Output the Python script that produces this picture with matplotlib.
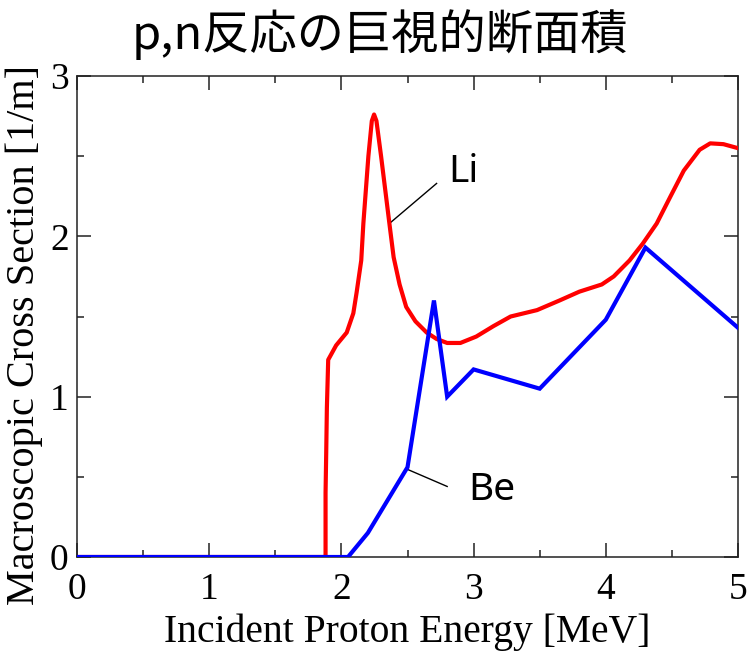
import matplotlib
matplotlib.use("Agg")
import matplotlib.pyplot as plt
from matplotlib.ticker import MultipleLocator

# Li (p,n) macroscopic cross section
li_energy = [0.0, 1.88, 1.88, 1.885, 1.89, 1.90, 1.96, 2.04, 2.09, 2.115, 2.15,
             2.166, 2.204, 2.23, 2.247, 2.265, 2.30, 2.363, 2.395, 2.44, 2.49, 2.56,
             2.645, 2.72, 2.80, 2.90, 3.02, 3.15, 3.28, 3.48, 3.65, 3.80, 3.97,
             4.06, 4.18, 4.28, 4.385, 4.49, 4.59, 4.71, 4.79, 4.89, 5.0]
li_sigma = [0.0, 0.0, 0.40, 0.65, 0.93, 1.23, 1.32, 1.40, 1.52, 1.65, 1.85,
            2.08, 2.50, 2.72, 2.76, 2.72, 2.50, 2.08, 1.87, 1.70, 1.56, 1.47,
            1.40, 1.36, 1.335, 1.335, 1.375, 1.44, 1.50, 1.54, 1.60, 1.655, 1.70,
            1.75, 1.85, 1.955, 2.08, 2.25, 2.41, 2.54, 2.58, 2.575, 2.55]

# Be (p,n)
be_energy = [0.0, 2.05, 2.2, 2.5, 2.7, 2.8, 3.0, 3.5, 4.0, 4.3, 5.0]
be_sigma = [0.0, 0.0, 0.15, 0.56, 1.60, 1.0, 1.17, 1.05, 1.48, 1.93, 1.43]

TITLE = "p,n反応の巨視的断面積"
XLABEL = "Incident Proton Energy [MeV]"
YLABEL = "Macroscopic Cross Section [1/m]"

# label text position and leader line ends (data coords)
li_text = (2.92, 2.40)
li_leader = ([2.37, 2.72], [2.085, 2.33])
be_text = (3.14, 0.42)
be_leader = ([2.49, 2.80], [0.55, 0.44])

fig = plt.figure(figsize=(7.48, 6.52), dpi=100)
ax = fig.add_axes([0.103, 0.1457, 0.8836, 0.7377])

ax.plot(li_energy, li_sigma, color="#ff0000", lw=3, solid_joinstyle="round", zorder=3)
ax.plot(be_energy, be_sigma, color="#0000ff", lw=3, solid_joinstyle="miter", zorder=4)

ax.plot(*li_leader, color="black", lw=1)
ax.plot(*be_leader, color="black", lw=1)
ax.text(*li_text, "Li", fontsize=28, family="Noto Sans", ha="center", va="center")
ax.text(*be_text, "Be", fontsize=28, family="Noto Sans", ha="center", va="center")

ax.set_xlim(0, 5)
ax.set_ylim(0, 3)
ax.xaxis.set_major_locator(MultipleLocator(1))
ax.xaxis.set_minor_locator(MultipleLocator(0.5))
ax.yaxis.set_major_locator(MultipleLocator(1))
ax.yaxis.set_minor_locator(MultipleLocator(0.5))
ax.tick_params(which="both", direction="in", top=True, right=True, width=1.1, color="#222222")
ax.tick_params(which="major", length=10)
ax.tick_params(which="minor", length=5)
ax.tick_params(axis="x", pad=11)
ax.tick_params(axis="y", pad=6)
for lab in ax.get_xticklabels() + ax.get_yticklabels():
    lab.set_family("Liberation Serif")
    lab.set_fontsize(27)
for sp in ax.spines.values():
    sp.set_linewidth(1.1)
    sp.set_color("#222222")

fig.text(407 / 748, 1 - 632 / 652, XLABEL, family="Liberation Serif", fontsize=28.5,
         ha="center", va="center")
fig.text(24 / 748, 1 - 335 / 652, YLABEL, family="Liberation Serif", fontsize=29,
         rotation=90, ha="center", va="center")
fig.text(380 / 748, 1 - 35 / 652, TITLE, family=["Noto Sans CJK JP", "DejaVu Sans"],
         fontsize=34, ha="center", va="center")

fig.savefig("out.png", dpi=100)
